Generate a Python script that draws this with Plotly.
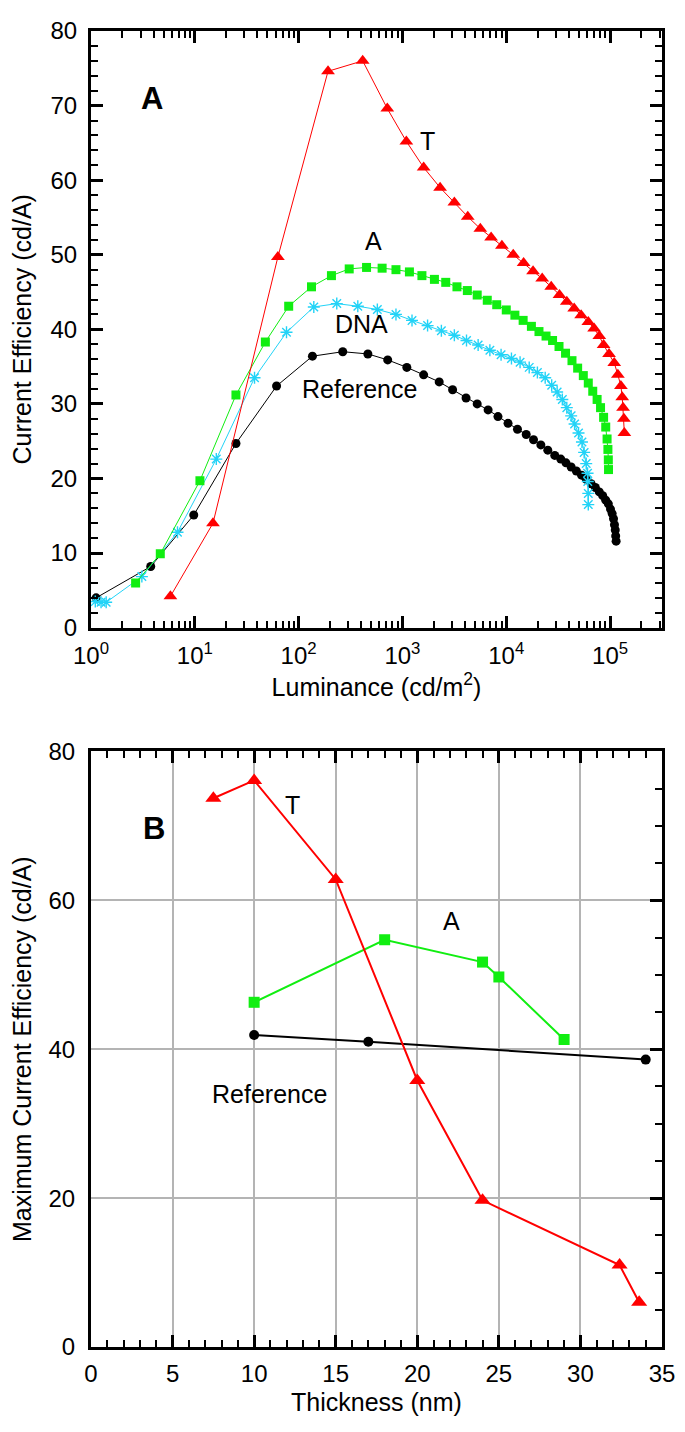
import numpy as np
import plotly.graph_objects as go

# ---------------- Panel A data: Current efficiency vs luminance ----------------
t_lum = [5.82, 14.96, 63.1, 191.9, 414, 714.5, 1090, 1600, 2304, 3162, 4256, 5623, 7145,
         9078, 11670, 14690, 18110, 22180, 27100, 32550, 38280, 45080, 52600, 61660, 70150,
         78700, 86600, 97720, 109650, 118850, 127060, 130920, 133350, 135830, 137240]
t_ce = [4.2, 14.0, 49.7, 74.6, 76.0, 69.6, 65.2, 61.7, 59.0, 57.0, 55.1, 53.5, 52.3,
        51.2, 50.0, 48.9, 47.8, 46.8, 45.7, 44.6, 43.7, 42.8, 41.9, 41.0, 40.1,
        39.1, 37.9, 36.7, 35.5, 33.9, 32.4, 30.9, 29.5, 28.0, 26.1]

a_lum = [2.69, 4.65, 11.2, 24.9, 47.8, 80.2, 133, 207, 307, 451, 637, 866, 1167, 1540,
         2032, 2612, 3350, 4217, 5248, 6561, 8091, 10000, 12106, 14540, 17458, 20654,
         24155, 27925, 32211, 37239, 42954, 48697, 55208, 61660, 68077, 74989, 80910,
         86596, 90782, 93541, 95280, 96161, 96605]
a_ce = [6.0, 9.9, 19.7, 31.2, 38.3, 43.1, 45.7, 47.2, 48.1, 48.3, 48.2, 48.0, 47.7, 47.2,
        46.7, 46.3, 45.7, 45.2, 44.6, 43.9, 43.3, 42.6, 41.9, 41.2, 40.4, 39.7,
        39.1, 38.5, 37.7, 36.8, 35.8, 34.8, 33.8, 32.8, 31.7, 30.6, 29.5,
        28.2, 26.9, 25.3, 23.9, 22.5, 21.2]

dna_lum = [1.1, 1.25, 1.4, 3.09, 6.81, 16.1, 37.6, 76.4, 140, 233, 371.5, 573, 866, 1236,
           1746, 2371, 3162, 4140, 5358, 6950, 8913, 11220, 13580, 16630, 19950, 23710,
           27380, 30900, 34670, 38280, 42170, 45500, 49660, 53580, 56230, 58880, 60670,
           60950, 61660, 61660]
dna_ce = [3.5, 3.4, 3.4, 6.85, 12.8, 22.6, 33.5, 39.6, 43.0, 43.45, 43.1, 42.66, 42.0, 41.2,
          40.5, 39.8, 39.2, 38.5, 37.9, 37.2, 36.6, 36.1, 35.6, 34.9, 34.2, 33.5,
          32.5, 31.6, 30.6, 29.5, 28.4, 27.3, 26.1, 24.9, 23.5, 22.0, 20.7,
          19.6, 18.0, 16.5]

ref_lum = [1.12, 3.76, 9.77, 24.9, 61.3, 135.8, 266, 464.5, 721, 1102, 1600, 2259, 3041,
           4098, 5248, 6683, 8318, 10400, 12820, 15560, 18300, 21530, 25120, 29310, 33500,
           37580, 42170, 47320, 53090, 58880, 65610, 72110, 78700, 84920, 90780, 96160,
           100900, 104700, 107900, 110200, 112200, 113200, 114300]
ref_ce = [4.0, 8.2, 15.1, 24.7, 32.4, 36.4, 37.0, 36.7, 35.9, 34.9, 33.9, 32.95, 31.9,
          30.8, 30.0, 29.2, 28.3, 27.4, 26.6, 25.9, 25.2, 24.5, 23.8, 23.1, 22.6,
          22.1, 21.55, 21.0, 20.45, 19.9, 19.3, 18.8, 18.2, 17.7, 17.1, 16.6,
          15.9, 15.3, 14.6, 13.8, 13.1, 12.3, 11.6]

lum_tickvals = [1, 10, 100, 1000, 10000, 100000]
lum_ticktext = ["10<sup>0</sup>", "10<sup>1</sup>", "10<sup>2</sup>", "10<sup>3</sup>",
                "10<sup>4</sup>", "10<sup>5</sup>"]

# ---------------- Panel B data: Max current efficiency vs thickness ----------------
bt_thk = [7.5, 10, 15, 20, 24, 32.4, 33.6]
bt_ce = [73.7, 76.1, 62.8, 35.8, 19.7, 11.0, 6.0]
ba_thk = [10, 18, 24, 25, 29]
ba_ce = [46.3, 54.7, 51.7, 49.7, 41.3]
bref_thk = [10, 17, 34]
bref_ce = [41.9, 41.0, 38.6]

RED = "#FF0000"
GREEN = "#11EE11"
CYAN = "#22D3F7"
FONT = "Liberation Sans, Arial, sans-serif"

fig = go.Figure()

# Panel A traces
fig.add_trace(go.Scatter(x=ref_lum, y=ref_ce, mode="lines+markers", xaxis="x", yaxis="y",
                         line=dict(color="black", width=1),
                         marker=dict(symbol="circle", size=9, color="black")))
fig.add_trace(go.Scatter(x=dna_lum, y=dna_ce, mode="lines+markers", xaxis="x", yaxis="y",
                         line=dict(color=CYAN, width=1),
                         marker=dict(symbol="asterisk-open", size=10, color=CYAN,
                                     line=dict(color=CYAN, width=1.4))))
fig.add_trace(go.Scatter(x=a_lum, y=a_ce, mode="lines+markers", xaxis="x", yaxis="y",
                         line=dict(color=GREEN, width=1),
                         marker=dict(symbol="square", size=9, color=GREEN)))
fig.add_trace(go.Scatter(x=t_lum, y=t_ce, mode="lines+markers", xaxis="x", yaxis="y",
                         line=dict(color=RED, width=1),
                         marker=dict(symbol="triangle-up", size=12, color=RED)))

# Panel B traces
fig.add_trace(go.Scatter(x=bref_thk, y=bref_ce, mode="lines+markers", xaxis="x2", yaxis="y2",
                         line=dict(color="black", width=2),
                         marker=dict(symbol="circle", size=10, color="black")))
fig.add_trace(go.Scatter(x=ba_thk, y=ba_ce, mode="lines+markers", xaxis="x2", yaxis="y2",
                         line=dict(color=GREEN, width=2),
                         marker=dict(symbol="square", size=11, color=GREEN)))
fig.add_trace(go.Scatter(x=bt_thk, y=bt_ce, mode="lines+markers", xaxis="x2", yaxis="y2",
                         line=dict(color=RED, width=2),
                         marker=dict(symbol="triangle-up", size=14, color=RED)))

tickfont = dict(family=FONT, size=24, color="black")
titlefont = dict(family=FONT, size=25, color="black")

minor_log = [m * 10 ** d for d in range(0, 6) for m in range(2, 10) if m * 10 ** d < 320000]

common = dict(showline=True, linewidth=3, linecolor="black", ticks="inside",
              tickcolor="black", tickwidth=2.5, ticklen=12, tickfont=tickfont,
              zeroline=False)

# The page body adds an 8 px offset; the figure is sized so it fits the window.
fig.update_layout(
    width=677, height=1424,
    margin=dict(l=78, r=23, t=9, b=85),
    paper_bgcolor="white", plot_bgcolor="white",
    showlegend=False,
    font=dict(family=FONT, color="black"),
    xaxis=dict(type="log", range=[0, 5.5], domain=[0, 1], anchor="y",
               tickmode="array", tickvals=lum_tickvals, ticktext=lum_ticktext,
               mirror="ticks", showgrid=False, ticklabelstandoff=5,
               minor=dict(tickmode="array", tickvals=minor_log, ticks="inside",
                          ticklen=7, tickwidth=2, tickcolor="black"),
               title=dict(text="Luminance (cd/m<sup>2</sup>)", font=titlefont, standoff=10),
               **common),
    yaxis=dict(range=[0, 80], domain=[0.5466, 1], anchor="x", dtick=10,
               mirror="ticks", showgrid=False, ticklabelstandoff=6,
               minor=dict(dtick=2, ticks="inside", ticklen=7, tickwidth=2, tickcolor="black"),
               title=dict(text="Current Efficiency (cd/A)", font=titlefont, standoff=14),
               **common),
    xaxis2=dict(range=[0, 35], domain=[0, 1], anchor="y2", dtick=5,
                mirror="ticks", showgrid=True, gridcolor="#B4B4B4", gridwidth=1.5,
                ticklabelstandoff=3,
                minor=dict(dtick=1, ticks="inside", ticklen=7, tickwidth=2, tickcolor="black"),
                title=dict(text="Thickness (nm)", font=titlefont, standoff=8),
                **common),
    yaxis2=dict(range=[0, 80], domain=[0, 0.4526], anchor="x2", dtick=20,
                showline=True, linewidth=3, linecolor="black", mirror=True,
                ticks="", tickfont=tickfont, zeroline=False, ticklabelstandoff=8,
                showgrid=True, gridcolor="#B4B4B4", gridwidth=1.5,
                title=dict(text="Maximum Current Efficiency (cd/A)", font=titlefont, standoff=14)),
    yaxis3=dict(range=[0, 80], overlaying="y2", side="right", anchor="x2", dtick=20,
                ticks="inside", ticklen=12, tickwidth=2.5, tickcolor="black",
                showticklabels=False, showgrid=False, showline=False, zeroline=False,
                minor=dict(dtick=5, ticks="inside", ticklen=7, tickwidth=2, tickcolor="black")),
)

# Invisible helper so the right-side tick axis of panel B is rendered
fig.add_trace(go.Scatter(x=bref_thk, y=bref_ce, xaxis="x2", yaxis="y3", mode="lines",
                         line=dict(width=0), opacity=0, hoverinfo="skip"))

lab = dict(family=FONT, size=25, color="black")
annots = [
    dict(x=np.log10(3.9), y=70.9, xref="x", yref="y", text="<b>A</b>",
         font=dict(family=FONT, size=31, color="black")),
    dict(x=np.log10(1740), y=65.3, xref="x", yref="y", text="T", font=lab),
    dict(x=np.log10(521), y=51.9, xref="x", yref="y", text="A", font=lab),
    dict(x=np.log10(400), y=40.7, xref="x", yref="y", text="DNA", font=lab),
    dict(x=np.log10(383), y=32.0, xref="x", yref="y", text="Reference", font=lab),
    dict(x=3.88, y=69.6, xref="x2", yref="y2", text="<b>B</b>",
         font=dict(family=FONT, size=31, color="black")),
    dict(x=12.34, y=72.8, xref="x2", yref="y2", text="T", font=lab),
    dict(x=22.1, y=57.2, xref="x2", yref="y2", text="A", font=lab),
    dict(x=10.96, y=34.0, xref="x2", yref="y2", text="Reference", font=lab),
]
for a in annots:
    a.update(showarrow=False, xanchor="center", yanchor="middle")
fig.update_layout(annotations=annots)

fig.write_html("out.html")
